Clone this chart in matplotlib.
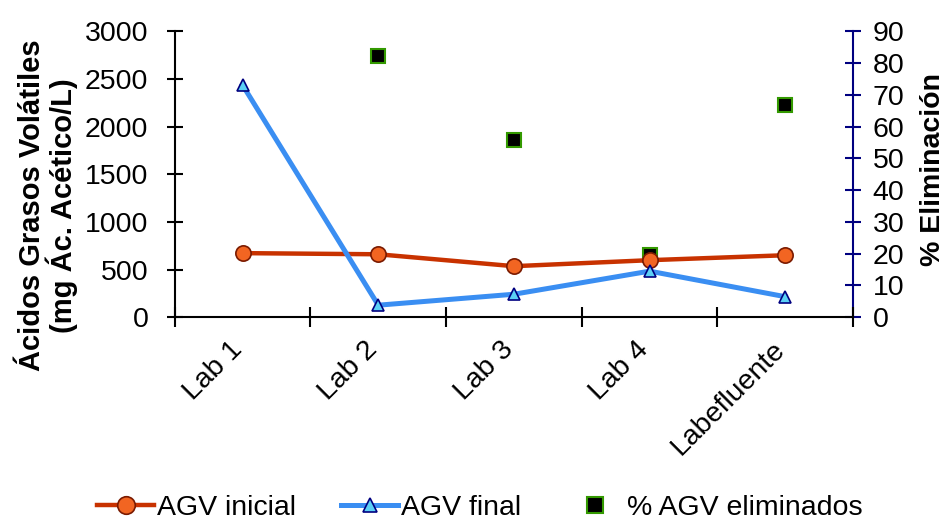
import matplotlib
matplotlib.use("Agg")
import matplotlib.pyplot as plt
import matplotlib.transforms as mtransforms
from matplotlib.ticker import MultipleLocator, FixedLocator
import numpy as np

plt.rcParams['font.family'] = ['Liberation Sans', 'DejaVu Sans']

categories = ["Lab 1", "Lab 2", "Lab 3", "Lab 4", "Labefluente"]
agv_inicial = [672, 660, 535, 598, 650]
agv_final = [2434, 126, 241, 483, 215]
pct_eliminados = [np.nan, 82.1, 55.7, 19.5, 66.7]

fig = plt.figure(figsize=(9.5, 5.2), dpi=100)
ax = fig.add_axes([0.184, 0.390, 0.714, 0.550])
ax2 = ax.twinx()

x = np.arange(len(categories))
ax.plot(x, agv_inicial, color='#C83200', lw=3.2, marker='o', ms=11,
        mfc='#F26522', mec='#7A1A00', mew=1.2, label='AGV inicial', zorder=3)
ax.plot(x, agv_final, color='#3A8EF2', lw=3.6, marker='^', ms=9,
        mfc='#5BD0F5', mec='#000080', mew=1.2, label='AGV final', zorder=3)
ax2.plot(x, pct_eliminados, ls='none', marker='s', ms=10,
         mfc='black', mec='#339900', mew=1.5, label='% AGV eliminados', zorder=4)

ax.set_xlim(-0.5, len(categories) - 0.5)
ax.set_ylim(0, 3000)
ax2.set_ylim(0, 90)
ax.yaxis.set_major_locator(MultipleLocator(500))
ax2.yaxis.set_major_locator(MultipleLocator(10))

ax.set_xticks(x)
ax.set_xticklabels(categories, rotation=45, ha='right', rotation_mode='anchor', fontsize=20.5)
ax.tick_params(axis='x', which='major', length=0, pad=10)
offset = mtransforms.ScaledTranslation(-10 / 72, -4 / 72, fig.dpi_scale_trans)
for lbl in ax.get_xticklabels():
    lbl.set_transform(lbl.get_transform() + offset)
ax.xaxis.set_minor_locator(FixedLocator(np.arange(-0.5, len(categories), 1.0)))
ax.tick_params(axis='x', which='minor', direction='inout', length=14, width=1.5, color='black')

ax.tick_params(axis='y', direction='inout', length=12, width=1.5, labelsize=20.5, pad=13)
ax2.tick_params(axis='y', direction='inout', length=12, width=1.5, colors='#000080',
                labelcolor='black', labelsize=20.5, pad=8)

for s in ['top', 'right']:
    ax.spines[s].set_visible(False)
ax.spines['left'].set_linewidth(1.5)
ax.spines['bottom'].set_linewidth(1.5)
ax2.spines['top'].set_visible(False)
ax2.spines['left'].set_visible(False)
ax2.spines['bottom'].set_visible(False)
ax2.spines['right'].set_color('#000080')
ax2.spines['right'].set_linewidth(1.5)
ax.set_zorder(ax2.get_zorder() + 1)
ax.patch.set_visible(False)

ax.set_ylabel("Ácidos Grasos Volátiles\n(mg Ác. Acético/L)", fontsize=21,
              fontweight='bold', linespacing=1.0)
ax.yaxis.set_label_coords(-0.142, 0.39)
ax2.set_ylabel("% Eliminación", fontsize=20.5, fontweight='bold', rotation=90)
ax2.yaxis.set_label_coords(1.099, 0.515)

h1, l1 = ax.get_legend_handles_labels()
h2, l2 = ax2.get_legend_handles_labels()
fig.legend(h1 + h2, l1 + l2, loc='lower center', ncol=3, frameon=False,
           fontsize=20.5, bbox_to_anchor=(0.505, -0.052), handlelength=2.0,
           handletextpad=0.1, columnspacing=1.6, markerscale=1.15)

fig.savefig("out.png", dpi=100)
